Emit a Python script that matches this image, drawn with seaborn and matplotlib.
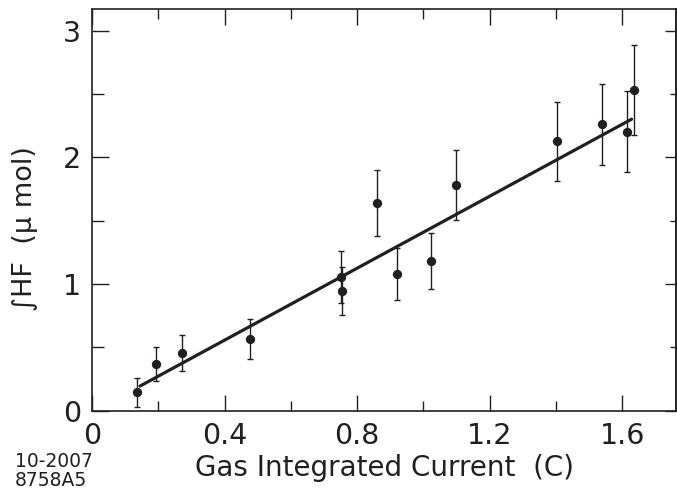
import numpy as np
import pandas as pd
import matplotlib
matplotlib.use("Agg")
import matplotlib.pyplot as plt
import seaborn as sns
from matplotlib.ticker import MultipleLocator

# ---- data ----
charge_C = [0.137, 0.193, 0.271, 0.476, 0.750, 0.755, 0.861, 0.920, 1.022, 1.097,
            1.404, 1.538, 1.614, 1.635]
hf_umol = [0.145, 0.365, 0.455, 0.565, 1.055, 0.945, 1.64, 1.075, 1.18, 1.78,
           2.125, 2.26, 2.20, 2.53]
hf_err = [0.115, 0.135, 0.145, 0.155, 0.205, 0.19, 0.26, 0.205, 0.22, 0.275,
          0.31, 0.32, 0.32, 0.355]
fit_x = [0.145, 1.628]
fit_y = [0.193, 2.30]
x_ticks = [0, 0.4, 0.8, 1.2, 1.6]
x_tick_labels = ["0", "0.4", "0.8", "1.2", "1.6"]
y_ticks = [0, 1, 2, 3]
y_tick_labels = ["0", "1", "2", "3"]

df = pd.DataFrame({"x": charge_C, "y": hf_umol, "err": hf_err})
fit = pd.DataFrame({"x": fit_x, "y": fit_y})

sns.set_style("ticks")
plt.rcParams["font.family"] = ["DejaVu Sans", "Liberation Sans"]

ink = "#231f20"
fig = plt.figure(figsize=(6.77, 4.91), dpi=100)
ax = fig.add_axes([92 / 677, 1 - 410.5 / 491, (676 - 92) / 677, (410.5 - 9) / 491])

ax.errorbar(df["x"], df["y"], yerr=df["err"], fmt="none", ecolor=ink,
            elinewidth=1.0, capsize=2.0, capthick=1.0, zorder=2)
sns.scatterplot(data=df, x="x", y="y", ax=ax, color=ink, s=45,
                edgecolor=ink, linewidth=0, zorder=3)
sns.lineplot(data=fit, x="x", y="y", ax=ax, color=ink, linewidth=2.3, zorder=4)

ax.set_xlim(0, 1.762)
ax.set_ylim(0, 3.17)
ax.set_xticks(x_ticks)
ax.set_xticklabels(x_tick_labels)
ax.set_yticks(y_ticks)
ax.set_yticklabels(y_tick_labels)
ax.xaxis.set_minor_locator(MultipleLocator(0.2))
ax.yaxis.set_minor_locator(MultipleLocator(0.5))

for s in ax.spines.values():
    s.set_visible(True)
    s.set_linewidth(1.2)
    s.set_color(ink)

ax.tick_params(axis="x", which="major", direction="in", length=11.5, width=1.0,
               top=True, bottom=True, labelsize=20.5, pad=8, colors=ink)
ax.tick_params(axis="x", which="minor", direction="in", length=7, width=1.0,
               top=True, bottom=True, colors=ink)
ax.tick_params(axis="y", which="major", direction="in", length=12, width=1.0,
               left=True, right=False, labelsize=20.5, pad=8, colors=ink)
ax.tick_params(axis="y", which="minor", direction="in", length=8.5, width=1.0,
               left=True, right=False, colors=ink)

# right-side ticks (shorter than left)
sec = ax.secondary_yaxis("right")
sec.set_yticks(y_ticks)
sec.yaxis.set_minor_locator(MultipleLocator(0.5))
sec.tick_params(which="major", direction="in", length=8, width=1.0, labelright=False, colors=ink)
sec.tick_params(which="minor", direction="in", length=4, width=1.0, colors=ink)
sec.spines["right"].set_linewidth(1.2)

ax.set_xlabel("Gas Integrated Current  (C)", fontsize=20, color=ink, labelpad=3)
ax.set_ylabel("\u222bHF  (\u03bc mol)", fontsize=19.5, color=ink)
ax.yaxis.set_label_coords(-0.093, 0.452)

fig.text(15 / 677, 1 - 471 / 491, "10-2007\n8758A5", fontsize=13.5, color=ink,
         ha="left", va="center", linespacing=1.0)

fig.savefig("out.png", dpi=100)
